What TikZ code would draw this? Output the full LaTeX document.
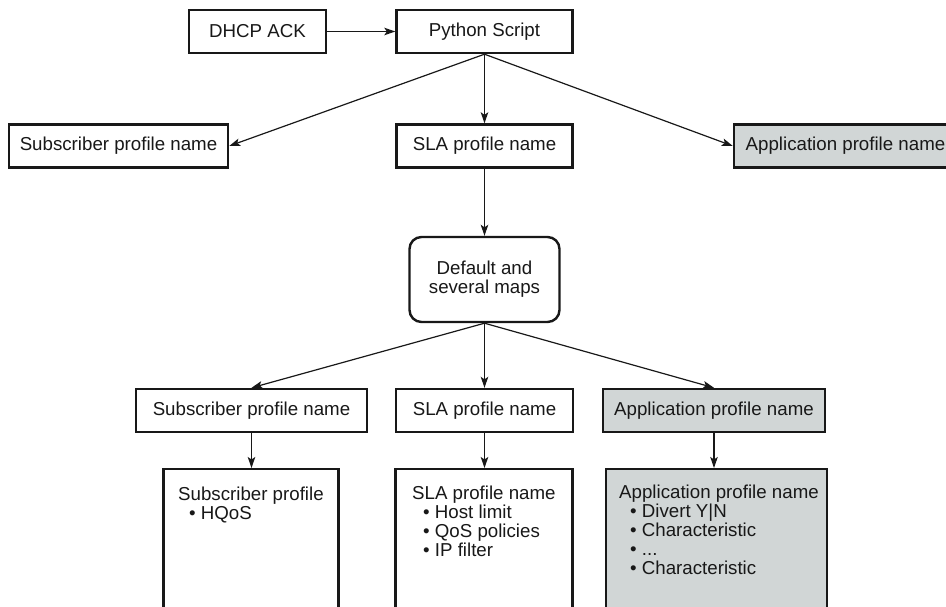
\documentclass[tikz,border=0pt]{standalone}
\usepackage{fontspec}
\setmainfont{Liberation Sans}
\usetikzlibrary{arrows.meta}
\definecolor{boxgray}{RGB}{209,214,214}
\definecolor{ink}{RGB}{24,24,24}
\tikzset{
  box/.style={draw=ink, line width=2.4pt, fill=white, minimum height=43pt, inner sep=0pt, text=ink},
  graybox/.style={box, fill=boxgray},
  tallbox/.style={box, minimum height=170pt, anchor=north},
  conn/.style={draw=ink, line width=1.2pt, -{Stealth[length=11pt,width=7.5pt,inset=2.5pt]}},
  listtext/.style={anchor=base west, inner sep=0pt, text=ink}
}
\begin{document}
\begin{tikzpicture}[x=1pt, y=-1pt, font=\fontsize{18.7}{19}\selectfont]
\useasboundingbox (0,0) rectangle (946,607);
\begin{scope}
\clip (0,0) rectangle (946,607);
% top row
\node[box, minimum width=137pt] (dhcp) at (257.5,31.5) {DHCP ACK};
\node[box, minimum width=176pt] (py) at (484.5,31.5) {Python Script};
% second row
\node[box, minimum width=219pt] (sub1) at (118.5,146) {Subscriber profile name};
\node[box, minimum width=176pt] (sla1) at (484.5,146) {SLA profile name};
\node[graybox, minimum width=223pt] (app1) at (845.5,146) {Application profile name};
% maps
\node[box, rounded corners=12pt, minimum width=150pt, minimum height=85pt, align=center] (maps) at (484.5,279.5) {Default and\\several maps};
% third row
\node[box, minimum width=231pt] (sub2) at (251.5,410.5) {Subscriber profile name};
\node[box, minimum width=177pt] (sla2) at (484.5,410.5) {SLA profile name};
\node[graybox, minimum width=222pt] (app2) at (714,410.5) {Application profile name};
% tall boxes
\node[tallbox, minimum width=175pt] (sub3) at (251,468) {};
\node[tallbox, minimum width=177pt] (sla3) at (484,468) {};
\node[tallbox, fill=boxgray, minimum width=221pt] (app3) at (716.5,468) {};
\node[listtext] (sub3t) at (178,500) {\begin{tabular}[t]{@{}l@{}}Subscriber profile\\\hspace*{11pt}• HQoS\end{tabular}};
\node[listtext] (sla3t) at (412,499) {\begin{tabular}[t]{@{}l@{}}SLA profile name\\\hspace*{11pt}• Host limit\\\hspace*{11pt}• QoS policies\\\hspace*{11pt}• IP filter\end{tabular}};
\node[listtext] (app3t) at (619,498) {\begin{tabular}[t]{@{}l@{}}Application profile name\\\hspace*{11pt}• Divert Y|N\\\hspace*{11pt}• Characteristic\\\hspace*{11pt}• ...\\\hspace*{11pt}• Characteristic\end{tabular}};
% connectors
\draw[conn] (dhcp.east) -- (py.west);
\draw[conn] (py.south) -- (sub1.east);
\draw[conn] (py.south) -- (sla1.north);
\draw[conn] (py.south) -- (app1.west);
\draw[conn] (sla1.south) -- (maps.north);
\draw[conn] (maps.south) -- (sub2.north);
\draw[conn] (maps.south) -- (sla2.north);
\draw[conn] (maps.south) -- (app2.north);
\draw[conn] (sub2.south) -- (sub2.south |- sub3.north);
\draw[conn] (sla2.south) -- (sla2.south |- sla3.north);
\draw[conn] (app2.south) -- (app2.south |- app3.north);
\end{scope}
\end{tikzpicture}
\end{document}
